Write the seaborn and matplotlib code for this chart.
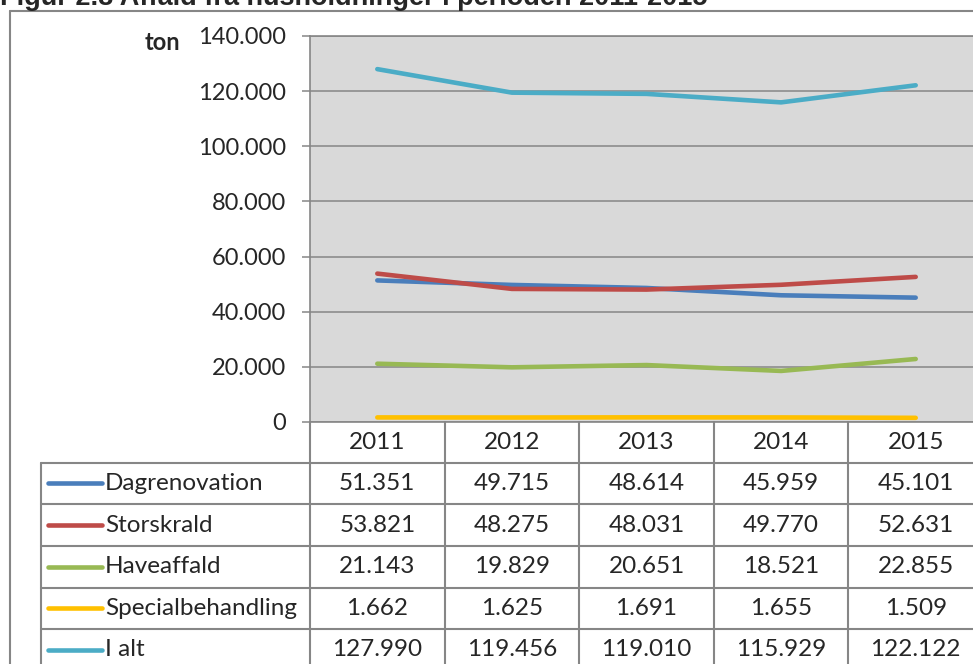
import pandas as pd
import matplotlib.pyplot as plt
from matplotlib.lines import Line2D
from matplotlib.ticker import FuncFormatter
import seaborn as sns

# data (tonnes)
years = ["2011", "2012", "2013", "2014", "2015"]
series_names = ["Dagrenovation", "Storskrald", "Haveaffald", "Specialbehandling", "I alt"]
dagrenovation = [51351, 49715, 48614, 45959, 45101]
storskrald = [53821, 48275, 48031, 49770, 52631]
haveaffald = [21143, 19829, 20651, 18521, 22855]
specialbehandling = [1662, 1625, 1691, 1655, 1509]
i_alt = [127990, 119456, 119010, 115929, 122122]
colors = ["#4A7EBB", "#BE4B48", "#98B954", "#FFC000", "#4BACC6"]

all_values = [dagrenovation, storskrald, haveaffald, specialbehandling, i_alt]
rows = []
for name, vals in zip(series_names, all_values):
    for y, v in zip(years, vals):
        rows.append({"Year": y, "Value": v, "Serie": name})
df = pd.DataFrame(rows)


def dk(v):
    return f"{int(v):,}".replace(",", ".")


sns.set_style("white")
plt.rcParams["font.family"] = ["Lato", "DejaVu Sans"]

W, H = 973, 664
fig = plt.figure(figsize=(W / 100, H / 100), dpi=100)


def fx(px):
    return px / W


def fy(py):
    return 1 - py / H


# axes placed in pixel units, right edge runs past the figure like in the original
ax_l, ax_r, ax_t, ax_b = 310, 983, 36, 422
ax = fig.add_axes([fx(ax_l), fy(ax_b), fx(ax_r - ax_l), (ax_b - ax_t) / H])
ax.set_facecolor("#D9D9D9")

sns.lineplot(data=df, x="Year", y="Value", hue="Serie", palette=colors,
             linewidth=3.3, ax=ax, legend=False, sort=False, solid_capstyle="round")

grid_c = "#868686"
ax.set_xlim(-0.5, 4.5)
ax.set_ylim(0, 140000)
ax.set_yticks(range(0, 140001, 20000))
ax.yaxis.set_major_formatter(FuncFormatter(lambda v, p: dk(v)))
ax.tick_params(axis="y", labelsize=17, length=6, width=1.1, color=grid_c, pad=11, left=True)
ax.tick_params(axis="x", bottom=False, labelbottom=False)
ax.set_xlabel("")
ax.set_ylabel("")
ax.grid(axis="y", color=grid_c, linewidth=1.1)
ax.set_axisbelow(True)
for s in ax.spines.values():
    s.set_color(grid_c)
    s.set_linewidth(1.2)

fig.text(fx(162), fy(43), "ton", fontsize=17, fontweight="bold", ha="center", va="center")

# data table below the plot, drawn in pixel positions
col_w = (ax_r - ax_l) / 5
col_edges = [ax_l + i * col_w for i in range(6)]
row_edges = [ax_b, 462.5, 504, 546, 587.5, 629, 671]
tbl_fs = 17.5


def hline(y, x0, x1):
    fig.add_artist(Line2D([fx(x0), fx(x1)], [fy(y), fy(y)], color=grid_c, lw=1.5))


def vline(x, y0, y1):
    fig.add_artist(Line2D([fx(x), fx(x)], [fy(y0), fy(y1)], color=grid_c, lw=1.5))


for y in row_edges[1:]:
    hline(y, 41, 1000)
vline(41, row_edges[1], row_edges[-1])
for x in col_edges:
    vline(x, ax_b, row_edges[-1])

for j, yr in enumerate(years):
    xc = (col_edges[j] + col_edges[j + 1]) / 2
    fig.text(fx(xc), fy((row_edges[0] + row_edges[1]) / 2), yr, fontsize=tbl_fs,
             ha="center", va="center")

for i, (name, vals, col) in enumerate(zip(series_names, all_values, colors)):
    yc = (row_edges[i + 1] + row_edges[i + 2]) / 2
    fig.add_artist(Line2D([fx(48), fx(102)], [fy(yc), fy(yc)], color=col, lw=3.3,
                          solid_capstyle="round"))
    fig.text(fx(105), fy(yc), name, fontsize=tbl_fs, ha="left", va="center")
    for j, v in enumerate(vals):
        xc = (col_edges[j] + col_edges[j + 1]) / 2
        fig.text(fx(xc), fy(yc), dk(v), fontsize=tbl_fs, ha="center", va="center")

# outer frame of the figure box
hline(11, 10, 1000)
vline(10, 11, 700)

# title, cut off at the top edge as in the source image
fig.text(0, fy(5), "Figur 2.8 Affald fra husholdninger i perioden 2011-2015",
         fontsize=19.5, fontweight="bold", family=["Liberation Sans", "DejaVu Sans"],
         ha="left", va="baseline")

fig.savefig("out.png", dpi=100)
